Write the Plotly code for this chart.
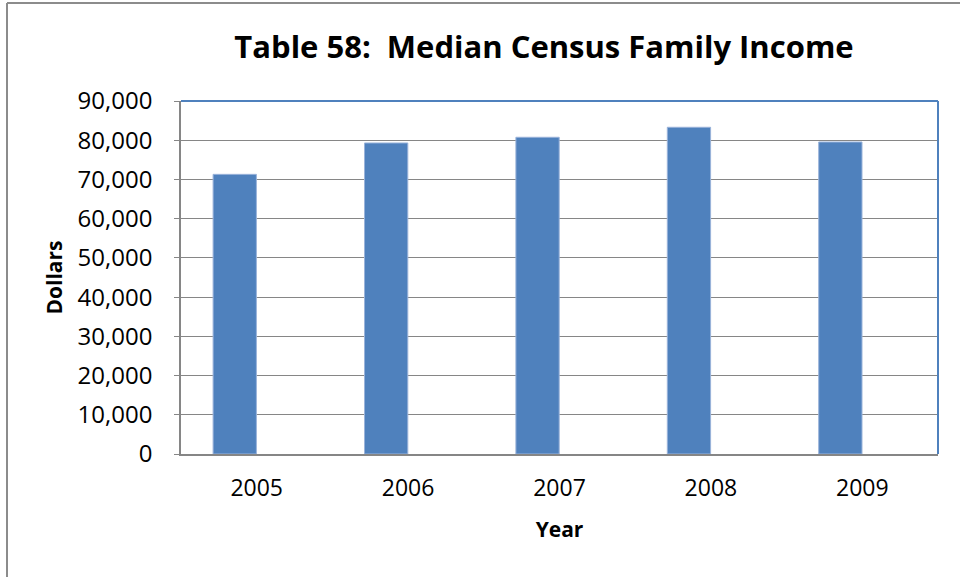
import plotly.graph_objects as go

# Median census family income by year
years = ["2005", "2006", "2007", "2008", "2009"]
income = [71300, 79300, 80750, 83300, 79550]
y_ticks = [0, 10000, 20000, 30000, 40000, 50000, 60000, 70000, 80000, 90000]

W, H = 960, 577
ML, MR, MT, MB = 181, 22, 101, 123
PW, PH = W - ML - MR, H - MT - MB

def px_x(x):
    return (x - ML) / PW

def px_y(y):
    return (H - MB - y) / PH

BAR_BLUE = "#4F81BD"
GRID = "#868686"
FONT = "Open Sans"

fig = go.Figure(
    go.Bar(
        x=years,
        y=income,
        width=0.286,
        offset=-0.288,
        marker=dict(color=BAR_BLUE, line=dict(color="#9AB3DA", width=1)),
        hoverinfo="x+y",
    )
)

shapes = [
    # blue top and right edges of the plot area
    dict(type="line", xref="paper", yref="paper", x0=0, x1=1, y0=1, y1=1,
         line=dict(color=BAR_BLUE, width=2)),
    dict(type="line", xref="paper", yref="paper", x0=1, x1=1, y0=0, y1=1,
         line=dict(color=BAR_BLUE, width=2)),
    # outer chart frame (left and top)
    dict(type="line", xref="paper", yref="paper", x0=px_x(7), x1=px_x(7),
         y0=px_y(3), y1=px_y(H + 5), line=dict(color="#8C8C8C", width=2)),
    dict(type="line", xref="paper", yref="paper", x0=px_x(7), x1=px_x(W + 5),
         y0=px_y(3), y1=px_y(3), line=dict(color="#8C8C8C", width=2)),
]

fig.update_layout(
    width=W,
    height=H,
    margin=dict(l=ML, r=MR, t=MT, b=MB, autoexpand=False),
    paper_bgcolor="white",
    plot_bgcolor="white",
    showlegend=False,
    font=dict(family=FONT, color="black"),
    title=dict(
        text="<b>Table 58:  Median Census Family Income</b>",
        font=dict(family=FONT, size=31, color="black"),
        x=544 / W,
        xanchor="center",
        y=1 - 47 / H,
        yanchor="middle",
    ),
    shapes=shapes,
)

fig.update_xaxes(
    type="category",
    range=[-0.5, 4.5],
    showgrid=False,
    showline=True,
    linecolor=GRID,
    linewidth=1.5,
    ticks="",
    tickfont=dict(family=FONT, size=23, color="black"),
    ticklabelstandoff=13,
    title=dict(text="<b>Year</b>", font=dict(family=FONT, size=21, color="black"), standoff=20),
)

fig.update_yaxes(
    range=[0, 90000],
    tickvals=y_ticks,
    tickformat=",",
    showgrid=True,
    gridcolor=GRID,
    gridwidth=1.3,
    showline=True,
    linecolor=GRID,
    linewidth=1.5,
    ticks="outside",
    ticklen=5,
    tickcolor=GRID,
    tickfont=dict(family=FONT, size=24, color="black"),
    ticklabelstandoff=17,
    zeroline=False,
    title=dict(text="<b>Dollars</b>", font=dict(family=FONT, size=21, color="black"), standoff=9),
)

fig.write_html("out.html")
